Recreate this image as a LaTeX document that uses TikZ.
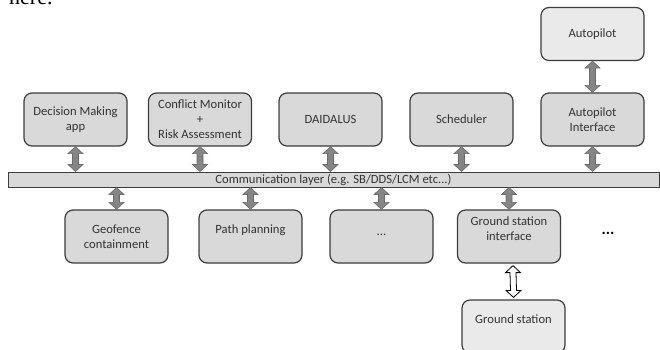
\documentclass[tikz,border=0pt]{standalone}
\usepackage{fontspec}
\setmainfont{Carlito}
\newfontfamily\pagefont{Liberation Serif}
\usetikzlibrary{calc}

\definecolor{boxgray}{HTML}{D9D9D9}
\definecolor{boxlight}{HTML}{EAEAEA}
\definecolor{edgegray}{HTML}{3C3C3C}
\definecolor{arrowgray}{HTML}{858585}
\definecolor{arrowedge}{HTML}{6A6A6A}
\definecolor{textgray}{HTML}{333333}

% block double arrow between two points, top one first
\newcommand\linkarrow[3][linkfill]{%
  \coordinate (la) at (#2);
  \coordinate (lb) at (#3);
  \draw[#1] (la) -- ++(7.5,7) -- ++(-4.5,0) -- ($(lb)+(3,-7)$) -- ++(4.5,0) -- (lb)
    -- ++(-7.5,-7) -- ++(4.5,0) -- ($(la)+(-3,7)$) -- ++(-4.5,0) -- cycle;}

\begin{document}
\begin{tikzpicture}[x=1pt,y=-1pt,
    box/.style={draw=edgegray, fill=boxgray, line width=1.2pt, rounded corners=8pt,
      minimum width=103pt, minimum height=53pt, align=center, text=textgray,
      inner sep=2pt, font=\fontsize{12.6}{15}\selectfont},
    outerbox/.style={box, fill=boxlight},
    busbar/.style={draw=edgegray, fill=boxgray, line width=1pt, minimum width=651pt,
      minimum height=15pt, inner sep=0pt, text=textgray, font=\fontsize{12.6}{13}\selectfont},
    linkfill/.style={draw=arrowedge, fill=arrowgray, line width=.6pt},
    hollowlink/.style={draw=black, fill=white, line width=.8pt}]
  \useasboundingbox (0,0) rectangle (660,349);
  \clip (0,0) rectangle (660,349);

  \node[anchor=base west, inner sep=0pt, font=\pagefont\fontsize{22}{22}\selectfont] (pagetext) at (9,4) {here.};

  % upper row
  \node[box] (dm) at (75.5,119.5) {Decision Making\\app};
  \node[box] (cm) at (200,119.5) {Conflict Monitor\\+\\Risk Assessment};
  \node[box] (dd) at (330.5,119.5) {DAIDALUS};
  \node[box] (sc) at (461.5,119.5) {Scheduler};
  \node[box] (ai) at (592.5,119.5) {Autopilot\\Interface};
  \node[outerbox] (ap) at (592.5,34) {Autopilot};

  \node[busbar] (bus) at (333.5,179.5) {Communication layer (e.g. SB/DDS/LCM etc...)};

  % lower row
  \node[box] (gf) at (116.5,236.5) {Geofence\\containment};
  \node[box] (pp) at (250.5,236.5) {Path planning\\\mbox{}};
  \node[box] (mo) at (381.5,236.5) {\raisebox{4pt}{...}};
  \node[box] (gsi) at (509,236.5) {Ground station\\interface\\\mbox{}};
  \node[outerbox] (gs) at (513.5,326.5) {Ground station\\\mbox{}};
  \node[font=\bfseries\fontsize{16}{16}\selectfont] (etc) at (608,233) {...};

  \foreach \n in {dm,cm,dd,sc,ai}
    \linkarrow{\n.south}{\n.south |- bus.north};
  \foreach \n in {gf,pp,mo,gsi}
    \linkarrow{\n.south |- bus.south}{\n.north};
  \linkarrow{ap.south}{ai.north};
  \linkarrow[hollowlink]{$(gsi.south)+(4,2)$}{$(gs.north)+(0,-2)$};
\end{tikzpicture}
\end{document}
